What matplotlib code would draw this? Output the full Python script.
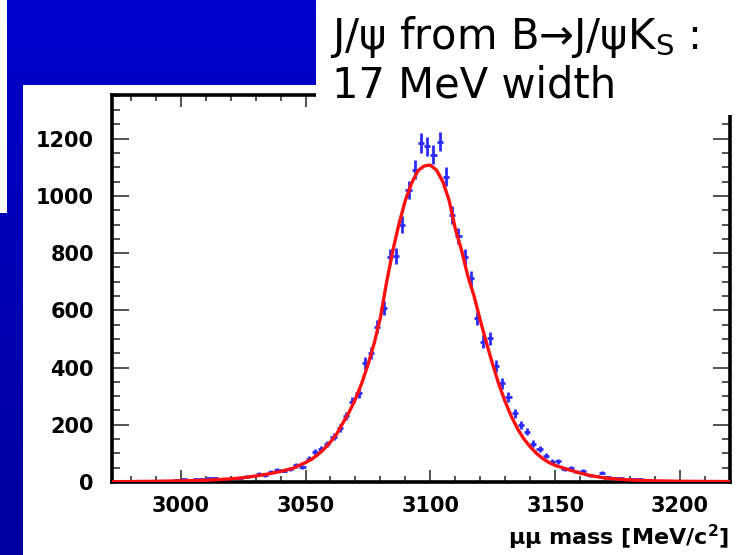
import numpy as np
import matplotlib
matplotlib.use("Agg")
import matplotlib.pyplot as plt
from matplotlib.patches import Rectangle
from matplotlib.ticker import MultipleLocator

# --- data ---
bin_lo = 2972.5
bin_width = 2.5
counts = [
    3, 3, 2, 3, 2, 3, 4, 3, 5, 5,
    7, 9, 6, 9, 12, 14, 15, 9, 12, 14,
    15, 19, 21, 29, 24, 36, 41, 40, 45, 58,
    52, 81, 104, 115, 133, 158, 190, 231, 281, 310,
    417, 450, 543, 607, 785, 790, 899, 1021, 1091, 1185,
    1173, 1144, 1190, 1068, 934, 860, 788, 712, 572, 491,
    502, 406, 345, 296, 240, 199, 176, 134, 115, 92,
    71, 73, 45, 50, 36, 40, 24, 21, 33, 16,
    15, 13, 7, 9, 9, 6, 5, 4, 5, 3,
    4, 3, 2, 3, 3, 2, 2, 2, 2,
]
bin_centres = bin_lo + bin_width * (np.arange(len(counts)) + 0.5)

fit_x = [2972.5, 2980, 2990, 3000, 3010, 3020, 3025, 3030, 3035, 3040,
         3045, 3050, 3052.5, 3055, 3057.5, 3060, 3062.5, 3065, 3067.5, 3070,
         3072.5, 3075, 3077.5, 3080, 3082.5, 3085, 3087.5, 3090, 3092.5, 3095,
         3097.5, 3100, 3102.5, 3105, 3107.5, 3110, 3112.5, 3115, 3117.5, 3120,
         3122.5, 3125, 3127.5, 3130, 3132.5, 3135, 3137.5, 3140, 3142.5, 3145,
         3147.5, 3150, 3155, 3160, 3165, 3170, 3175, 3180, 3190, 3200,
         3210, 3220]
fit_y = [1, 1.5, 2.5, 4, 6, 11, 15, 21, 28, 37,
         48, 68, 80, 96, 116, 140, 168, 207, 245, 290,
         345, 410, 485, 575, 700, 810, 905, 985, 1045, 1088,
         1105, 1108, 1090, 1050, 985, 885, 810, 720, 650, 565,
         485, 410, 340, 280, 228, 185, 150, 123, 100, 82,
         68, 58, 44, 31, 21, 14, 10, 7, 4, 2.5,
         2, 1.5]

x_ticks = [3000, 3050, 3100, 3150, 3200]
y_ticks = [0, 200, 400, 600, 800, 1000, 1200]

W, H = 742, 555
fig = plt.figure(figsize=(W / 100, H / 100), dpi=100)


def fig_rect(x0, y0, x1, y1, color, z):
    """Rectangle given in pixel coords measured from the top-left corner."""
    r = Rectangle((x0 / W, 1 - y1 / H), (x1 - x0) / W, (y1 - y0) / H,
                  transform=fig.transFigure, facecolor=color,
                  edgecolor="none", zorder=z)
    fig.patches.append(r)


# slide background: blue gradient
bg = fig.add_axes([0, 0, 1, 1], zorder=-2)
grad = np.linspace(0, 1, 256).reshape(-1, 1)
blue = np.zeros((256, 1, 3))
blue[:, 0, 2] = 0.80 - 0.18 * grad[:, 0]
bg.imshow(blue, aspect="auto", extent=[0, 1, 0, 1])
bg.set_axis_off()

fig_rect(0, 0, 7, 213, "white", -1)        # stray white strip top-left
fig_rect(23, 85, W, H, "white", -1)        # the pasted plot image

# --- histogram axes ---
ax = fig.add_axes([112 / W, 1 - 482 / H, (730 - 112) / W, (482 - 95) / H],
                  zorder=1)
ax.set_facecolor("none")

ax.errorbar(bin_centres, counts, xerr=bin_width / 2, yerr=np.sqrt(counts),
            fmt="none", ecolor="#2b2bff", elinewidth=2.0, capsize=0, zorder=2)
ax.plot(fit_x, fit_y, color="#ff1010", lw=2.4, zorder=3)

ax.set_xlim(2972.5, 3220)
ax.set_ylim(0, 1353)
ax.set_xticks(x_ticks)
ax.set_yticks(y_ticks)
ax.xaxis.set_minor_locator(MultipleLocator(10))
ax.yaxis.set_minor_locator(MultipleLocator(50))

ax.tick_params(which="both", direction="in", top=True, right=True,
               color="#444444", width=1.3)
ax.tick_params(axis="y", which="major", length=12, pad=13)
ax.tick_params(axis="y", which="minor", length=6)
ax.tick_params(axis="x", which="major", length=8.5, pad=10)
ax.tick_params(axis="x", which="minor", length=4.5)
for lab in ax.get_xticklabels() + ax.get_yticklabels():
    lab.set_fontsize(15)
    lab.set_fontweight("bold")
for sp in ax.spines.values():
    sp.set_linewidth(2.6)
    sp.set_color("black")

fig.text(729 / W, 1 - 545 / H, r"μμ mass [MeV/c$^{\mathbf{2}}$]",
         ha="right", va="baseline", fontsize=16, fontweight="bold")

# --- slide caption on its white box ---
fig_rect(316, 0, W, 115, "white", 2)
fig.text(330 / W, 1 - 49 / H, r"J/ψ from B→J/ψK$_{\mathrm{S}}$ :",
         ha="left", va="baseline", fontsize=30, zorder=3)
fig.text(332 / W, 1 - 97 / H, "17 MeV width",
         ha="left", va="baseline", fontsize=30, zorder=3)

fig.savefig("out.png", dpi=100)
